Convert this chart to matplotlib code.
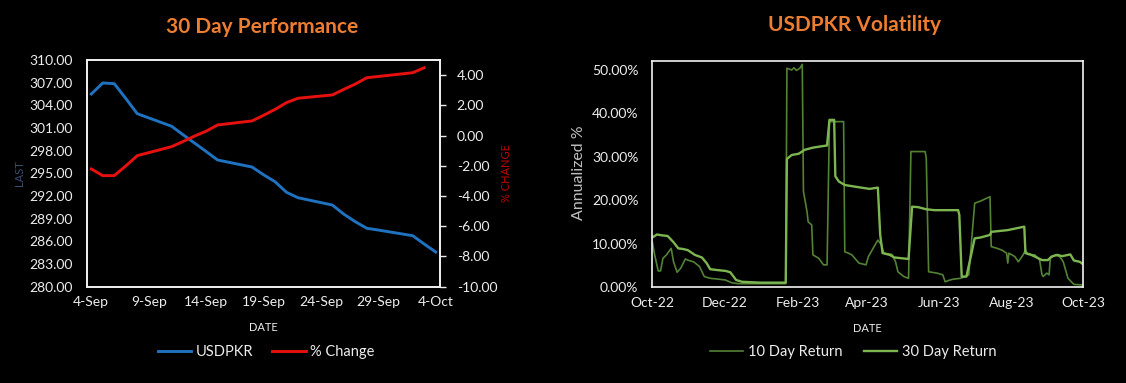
import matplotlib
matplotlib.use("Agg")
from matplotlib import pyplot as plt
import pandas as pd

plt.rcParams['font.family'] = ['Lato', 'DejaVu Sans']

# 30 day performance (business days)
perf_dates = ["2023-09-04", "2023-09-05", "2023-09-06", "2023-09-07", "2023-09-08",
              "2023-09-11", "2023-09-12", "2023-09-13", "2023-09-14", "2023-09-15",
              "2023-09-18", "2023-09-19", "2023-09-20", "2023-09-21", "2023-09-22",
              "2023-09-25", "2023-09-26", "2023-09-27", "2023-09-28", "2023-09-29",
              "2023-10-02", "2023-10-03", "2023-10-04"]
usdpkr = [305.50, 306.96, 306.87, 304.92, 302.90, 301.23, 300.10, 299.00, 297.90, 296.77,
          295.84, 294.82, 293.90, 292.50, 291.78, 290.81, 289.60, 288.60, 287.73, 287.50,
          286.75, 285.65, 284.59]
pct_change = [-2.21, -2.65, -2.65, -2.01, -1.33, -0.73, -0.39, -0.03, 0.29, 0.70,
              0.97, 1.34, 1.73, 2.18, 2.47, 2.69, 3.06, 3.41, 3.83, 3.91,
              4.16, 4.49]

# volatility, 30 day return (annualized %)
vol30_dates = ["2022-10-01", "2022-10-05", "2022-10-09", "2022-10-14", "2022-10-19", "2022-10-23",
               "2022-10-27", "2022-10-31", "2022-11-06", "2022-11-12", "2022-11-16", "2022-11-19",
               "2022-11-25", "2022-12-02", "2022-12-06", "2022-12-11", "2022-12-16", "2022-12-31",
               "2023-01-22", "2023-01-23", "2023-01-27", "2023-02-02", "2023-02-07", "2023-02-14",
               "2023-02-21", "2023-02-26", "2023-02-28", "2023-03-04", "2023-03-05", "2023-03-08",
               "2023-03-13", "2023-03-22", "2023-04-03", "2023-04-10", "2023-04-12", "2023-04-14",
               "2023-04-20", "2023-04-24", "2023-05-06", "2023-05-09", "2023-05-14", "2023-05-21",
               "2023-05-28", "2023-06-17", "2023-06-18", "2023-06-20", "2023-06-24", "2023-06-28",
               "2023-07-01", "2023-07-06", "2023-07-14", "2023-07-15", "2023-07-29", "2023-08-12",
               "2023-08-13", "2023-08-17", "2023-08-21", "2023-08-27", "2023-09-01", "2023-09-04",
               "2023-09-09", "2023-09-13", "2023-09-20", "2023-09-23", "2023-09-28", "2023-10-01"]
vol30 = [11.4, 12.1, 11.9, 11.75, 10.3, 8.9,
         8.75, 8.5, 7.4, 6.8, 5.5, 4.1,
         3.9, 3.7, 3.4, 1.6, 1.2, 1.0,
         1.0, 29.5, 30.4, 30.7, 31.6, 32.1,
         32.4, 32.6, 38.5, 38.5, 25.5, 24.3,
         23.5, 23.1, 22.6, 22.9, 12.0, 7.8,
         7.4, 6.8, 6.45, 18.5, 18.4, 17.9,
         17.7, 17.7, 16.6, 2.4, 2.4, 7.4,
         11.2, 11.4, 12.0, 12.7, 13.1, 13.9,
         7.8, 7.5, 7.0, 6.2, 6.2, 7.0,
         7.4, 7.1, 7.5, 6.1, 5.8, 5.2]

# volatility, 10 day return (annualized %)
vol10_dates = ["2022-10-01", "2022-10-03", "2022-10-06", "2022-10-08", "2022-10-10", "2022-10-13",
               "2022-10-17", "2022-10-19", "2022-10-22", "2022-10-25", "2022-10-29", "2022-11-01",
               "2022-11-05", "2022-11-10", "2022-11-14", "2022-11-19", "2022-11-26", "2022-12-02",
               "2022-12-07", "2022-12-13", "2023-01-22", "2023-01-23", "2023-01-27", "2023-01-29",
               "2023-01-31", "2023-02-03", "2023-02-05", "2023-02-06", "2023-02-09", "2023-02-10",
               "2023-02-13", "2023-02-14", "2023-02-19", "2023-02-23", "2023-02-26", "2023-02-28",
               "2023-03-12", "2023-03-13", "2023-03-16", "2023-03-19", "2023-03-25", "2023-03-31",
               "2023-04-02", "2023-04-06", "2023-04-10", "2023-04-13", "2023-04-15", "2023-04-22",
               "2023-04-25", "2023-04-27", "2023-05-02", "2023-05-06", "2023-05-08", "2023-05-20",
               "2023-05-21", "2023-05-23", "2023-05-30", "2023-06-04", "2023-06-06", "2023-06-10",
               "2023-06-13", "2023-06-19", "2023-06-23", "2023-06-26", "2023-07-01", "2023-07-06",
               "2023-07-14", "2023-07-15", "2023-07-20", "2023-07-24", "2023-07-28", "2023-07-29",
               "2023-07-30", "2023-08-04", "2023-08-07", "2023-08-11", "2023-08-13", "2023-08-15",
               "2023-08-21", "2023-08-25", "2023-08-27", "2023-08-28", "2023-08-31", "2023-09-02",
               "2023-09-03", "2023-09-07", "2023-09-11", "2023-09-14", "2023-09-18", "2023-09-23",
               "2023-10-01"]
vol10 = [10.4, 7.4, 3.7, 3.7, 6.6, 7.4,
         8.9, 5.8, 3.4, 4.3, 6.45, 6.1,
         5.8, 4.7, 2.4, 2.0, 1.8, 1.6,
         1.0, 0.76, 0.76, 50.4, 50.0, 50.5,
         49.9, 50.4, 51.3, 22.0, 17.4, 15.0,
         14.3, 7.4, 6.6, 5.1, 5.1, 38.1,
         38.1, 8.1, 7.8, 7.4, 5.5, 5.1,
         7.0, 8.9, 10.8, 9.7, 7.8, 7.5,
         5.8, 3.5, 2.4, 2.0, 31.2, 31.2,
         29.7, 3.5, 3.2, 2.8, 1.2, 1.6,
         1.8, 2.0, 2.4, 2.8, 19.3, 19.8,
         20.8, 9.3, 8.9, 8.5, 7.8, 5.5,
         7.8, 7.0, 5.8, 7.4, 8.5, 7.5,
         7.4, 6.2, 2.8, 2.4, 3.2, 2.8,
         6.6, 7.4, 7.0, 5.8, 2.0, 0.6,
         0.46]

txt = "#EDEDED"
orange = "#ED7D31"
blue = "#1F72C0"
red = "#E8100F"
dark_green = "#548235"
light_green = "#7DB650"

fig = plt.figure(figsize=(11.26, 3.83), dpi=100, facecolor="black")

# ---- left chart: 30 day performance
ax = fig.add_axes([0.0770, 0.2514, 0.3138, 0.5919], facecolor="black")
ax2 = ax.twinx()
d = pd.to_datetime(perf_dates)
l1, = ax.plot(d, usdpkr, color=blue, lw=2.1, label="USDPKR")
l2, = ax2.plot(d[:len(pct_change)], pct_change, color=red, lw=2.1, label="% Change")

ax.set_xlim(pd.Timestamp("2023-09-04") - pd.Timedelta(hours=9.6),
            pd.Timestamp("2023-10-04") + pd.Timedelta(hours=9.1))
ax.set_ylim(280, 310)
ax.set_yticks(range(280, 311, 3))
ax.set_yticklabels([f"{v:.2f}" for v in range(280, 311, 3)])
ax2.set_ylim(-10, 5)
ax2.set_yticks(range(-10, 5, 2))
ax2.set_yticklabels([f"{v:.2f}" for v in range(-10, 5, 2)])
xt = pd.date_range("2023-09-04", "2023-10-04", freq="5D")
ax.set_xticks(xt)
ax.set_xticklabels([f"{t.day}-{t.strftime('%b')}" for t in xt])

ax.tick_params(axis="y", length=0, pad=10, labelsize=10, colors=txt)
ax.tick_params(axis="x", length=0, pad=7, labelsize=10, colors=txt)
ax2.tick_params(axis="y", length=4, width=1, pad=8, labelsize=10, colors=txt)
for a in (ax, ax2):
    for s in a.spines.values():
        s.set_color("#F2F2F2")
        s.set_linewidth(1.2)

ax.set_xlabel("DATE", color=txt, fontsize=8, labelpad=10)
fig.text(20 / 1126, 1 - 173 / 383, "LAST", color="#3B4E6E", fontsize=8,
         rotation=90, ha="center", va="center")
fig.text(507 / 1126, 1 - 173 / 383, "% CHANGE", color="#C00000", fontsize=8,
         rotation=90, ha="center", va="center")
fig.text(262 / 1126, 1 - 27 / 383, "30 Day Performance", color=orange,
         fontsize=15, fontweight="bold", ha="center", va="center")
fig.legend(handles=[l1, l2], loc="center", bbox_to_anchor=(266 / 1126, 1 - 352 / 383),
           ncol=2, frameon=False, fontsize=10.5, labelcolor=txt, handlelength=2.3,
           handletextpad=0.3, columnspacing=1.3)

# ---- right chart: USDPKR volatility
bx = fig.add_axes([0.5793, 0.2507, 0.3828, 0.5893], facecolor="black")
m1, = bx.plot(pd.to_datetime(vol10_dates), vol10, color=dark_green, lw=1.2, label="10 Day Return")
m2, = bx.plot(pd.to_datetime(vol30_dates), vol30, color=light_green, lw=1.7, label="30 Day Return")
bx.set_xlim(pd.Timestamp("2022-10-01"), pd.Timestamp("2023-10-01"))
bx.set_ylim(0, 52)
bx.set_yticks(range(0, 51, 10))
bx.set_yticklabels([f"{v:.2f}%" for v in range(0, 51, 10)])
mt = pd.date_range("2022-10-01", "2023-10-01", freq="2MS")
bx.set_xticks(mt)
bx.set_xticklabels([t.strftime("%b-%y") for t in mt])
bx.tick_params(axis="y", length=0, pad=10, labelsize=10, colors=txt)
bx.tick_params(axis="x", length=0, pad=7, labelsize=10, colors=txt)
for s in bx.spines.values():
    s.set_color("#F2F2F2")
    s.set_linewidth(1.2)
bx.set_xlabel("DATE", color=txt, fontsize=8, labelpad=10)
fig.text(579 / 1126, 1 - 173 / 383, "Annualized %", color="#BFBFBF", fontsize=11.5,
         rotation=90, ha="center", va="center")
fig.text(854 / 1126, 1 - 25 / 383, "USDPKR Volatility", color=orange,
         fontsize=15, fontweight="bold", ha="center", va="center")
fig.legend(handles=[m1, m2], loc="center", bbox_to_anchor=(853 / 1126, 1 - 352 / 383),
           ncol=2, frameon=False, fontsize=10.5, labelcolor=txt, handlelength=2.3,
           handletextpad=0.3, columnspacing=1.5)

fig.savefig("out.png", dpi=100, facecolor="black")
